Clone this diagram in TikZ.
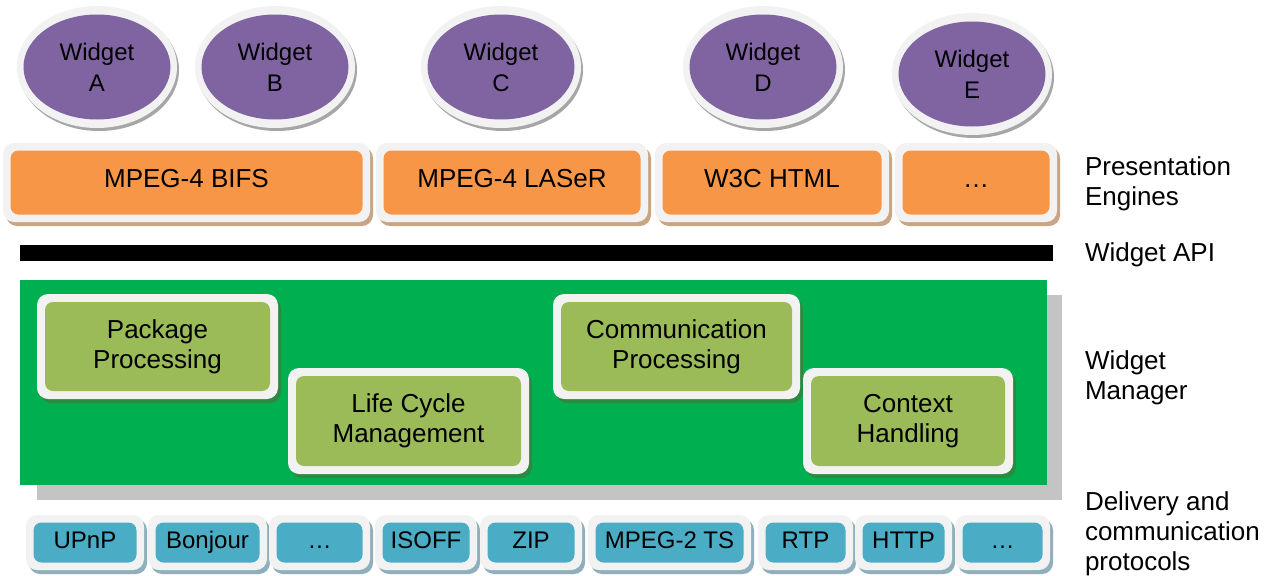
\documentclass[tikz,border=0pt]{standalone}
\usepackage{fontspec}
\setmainfont{Liberation Sans}
\usetikzlibrary{shapes.geometric,shadows}
\definecolor{wpurple}{HTML}{8064A2}
\definecolor{worange}{HTML}{F79646}
\definecolor{wgreen}{HTML}{00B050}
\definecolor{wlgreen}{HTML}{9BBB59}
\definecolor{wblue}{HTML}{4BACC6}
\definecolor{wborder}{HTML}{F2F2F2}
\definecolor{shgray}{HTML}{A6A6A6}
\definecolor{shtan}{HTML}{C9A584}
\definecolor{shgreen}{HTML}{2B8A40}
\definecolor{shblue}{HTML}{8FAFBC}
\definecolor{panelshadow}{HTML}{C4C4C4}
\newcommand\cbox[9]{%
  \node[frame=#8, minimum width=#4pt, minimum height=#5pt] (#1-f) at (#2,#3) {};
  \node[core=#7, minimum width=#4pt-2*#6pt, minimum height=#5pt-2*#6pt] (#1) at (#2,#3) {#9};
}
\newcommand\wid[4]{%
  \node[ellipse, fill=wborder, minimum width=160pt, minimum height=122pt,
        drop shadow={shadow xshift=2pt, shadow yshift=-3pt, fill=shgray, opacity=1}] (#1-f) at (#2,#3) {};
  \node[ellipse, fill=wpurple, minimum width=147pt, minimum height=105pt, align=center,
        font=\fontsize{24}{31}\selectfont] (#1) at (#2,#3) {Widget\\#4};
}
\begin{document}
\begin{tikzpicture}[x=1pt,y=-1pt,
  every node/.style={inner sep=0pt, outer sep=0pt},
  frame/.style={fill=wborder, rounded corners=11pt,
     drop shadow={shadow xshift=3pt, shadow yshift=-4pt, fill=#1, opacity=1}},
  coreextra/.style={},
  core/.style={fill=#1, rounded corners=8pt, align=center, coreextra},
  lab/.style={anchor=west, align=left, font=\fontsize{26}{30}\selectfont}]
\useasboundingbox[fill=white] (0,0) rectangle (1270,576);

% widgets
\wid{wa}{97}{67}{A}
\wid{wb}{275}{67}{B}
\wid{wc}{501}{67}{C}
\wid{wd}{763}{67}{D}
\wid{we}{972}{74}{E}

% presentation engines
\begin{scope}[font=\fontsize{26}{30}\selectfont,
  coreextra/.style={text height=18.7pt, text depth=7.8pt}]
\cbox{bifs}{186.5}{182.5}{367}{79}{7.5}{worange}{shtan}{MPEG-4 BIFS}
\cbox{laser}{512}{182.5}{272}{79}{7.5}{worange}{shtan}{MPEG-4 LASeR}
\cbox{html}{772}{182.5}{234}{79}{7.5}{worange}{shtan}{W3C HTML}
\cbox{pdots}{976}{182.5}{162}{79}{7.5}{worange}{shtan}{\dots}
\end{scope}

% widget API bar
\node[fill=black, minimum width=1033pt, minimum height=16pt, anchor=north west] (api) at (20,245) {};

% widget manager panel
\node[fill=panelshadow, minimum width=1025pt, minimum height=205pt, anchor=north west] (panel-s) at (37,295) {};
\node[fill=wgreen, minimum width=1027pt, minimum height=205pt, anchor=north west] (panel) at (20,280) {};

\begin{scope}[font=\fontsize{26}{30}\selectfont]
\cbox{pkg}{157.5}{346.5}{241}{105}{8}{wlgreen}{shgreen}{Package\\Processing}
\cbox{life}{408.5}{421}{241}{106}{8}{wlgreen}{shgreen}{Life Cycle\\Management}
\cbox{comm}{676.5}{346.5}{247}{105}{8}{wlgreen}{shgreen}{Communication\\Processing}
\cbox{ctx}{908}{421}{210}{106}{8}{wlgreen}{shgreen}{Context\\Handling}
\end{scope}

% delivery protocols
\begin{scope}[font=\fontsize{24}{29}\selectfont,
  coreextra/.style={text height=17.3pt, text depth=6pt}]
\cbox{upnp}{85}{542.5}{118}{55}{7.5}{wblue}{shblue}{UPnP}
\cbox{bonjour}{207.5}{542.5}{119}{55}{7.5}{wblue}{shblue}{Bonjour}
\cbox{ddots}{319.5}{542.5}{101}{55}{7.5}{wblue}{shblue}{\dots}
\cbox{isoff}{426}{542.5}{102}{55}{7.5}{wblue}{shblue}{ISOFF}
\cbox{zip}{531}{542.5}{102}{55}{7.5}{wblue}{shblue}{ZIP}
\cbox{ts}{669.5}{542.5}{163}{55}{7.5}{wblue}{shblue}{MPEG-2 TS}
\cbox{rtp}{805.5}{542.5}{95}{55}{7.5}{wblue}{shblue}{RTP}
\cbox{http}{903.5}{542.5}{97}{55}{7.5}{wblue}{shblue}{HTTP}
\cbox{edots}{1002.5}{542.5}{95}{55}{7.5}{wblue}{shblue}{\dots}
\end{scope}

% layer labels
\node[lab] (lpe) at (1085,184) {Presentation\\Engines};
\node[lab] (lapi) at (1085,255) {Widget API};
\node[lab] (lwm) at (1085,378) {Widget\\Manager};
\node[lab] (ldel) at (1085,534) {Delivery and\\communication\\protocols};
\end{tikzpicture}
\end{document}
